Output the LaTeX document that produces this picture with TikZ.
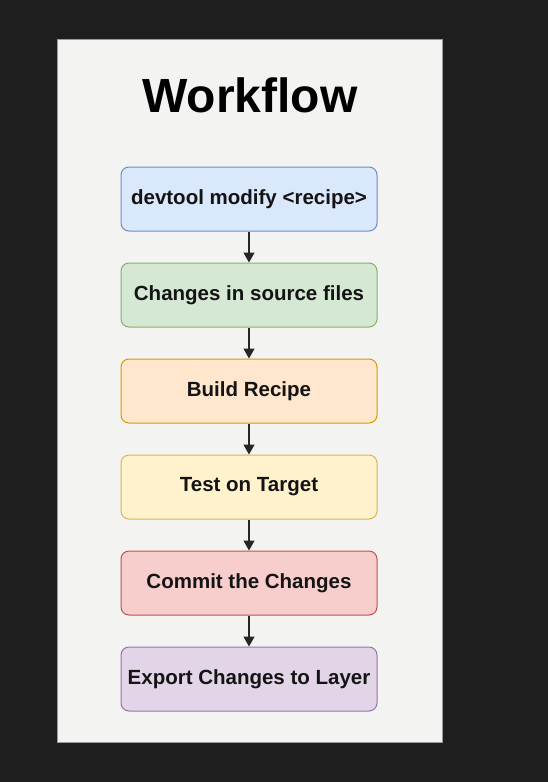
\documentclass[tikz,border=0pt]{standalone}
\usepackage{fontspec}
\setmainfont{Liberation Sans}
\usepackage{tikz}
\usepackage{xcolor}
\usetikzlibrary{shapes,arrows.meta,positioning,calc}

\definecolor{bgdark}{HTML}{1E1E1E}
\definecolor{panelfill}{HTML}{F3F3F2}
\definecolor{panelline}{HTML}{9A9A9A}
\definecolor{txtdark}{HTML}{141414}
\definecolor{bluefill}{HTML}{DAE8FC}\definecolor{blueline}{HTML}{6C8EBF}
\definecolor{greenfill}{HTML}{D5E8D4}\definecolor{greenline}{HTML}{82B366}
\definecolor{orangefill}{HTML}{FFE6CC}\definecolor{orangeline}{HTML}{D79B00}
\definecolor{yellowfill}{HTML}{FFF2CC}\definecolor{yellowline}{HTML}{D6B656}
\definecolor{redfill}{HTML}{F8CECC}\definecolor{redline}{HTML}{B85450}
\definecolor{purplefill}{HTML}{E1D5E7}\definecolor{purpleline}{HTML}{9673A6}

\tikzset{
    stepbox/.style={draw, line width=1pt, rounded corners=8pt,
        minimum width=256pt, minimum height=64pt, inner sep=0pt,
        text=txtdark, font=\fontsize{20.5}{24}\selectfont\bfseries},
    flow/.style={-{Triangle[width=11pt,length=10pt]}, line width=1.3pt, black!85}
}

\begin{document}
\begin{tikzpicture}[x=1pt, y=-1pt, node distance=31pt]
        % Background and panel
        \fill[bgdark] (0,0) rectangle (548,782);
        \useasboundingbox (0,0) rectangle (548,782);
        \filldraw[fill=panelfill, draw=panelline, line width=1pt] (57,39) rectangle (442,742);

        % ============================================================
        % Title
        % ============================================================
        \node[text=black, font=\fontsize{48}{52}\selectfont\bfseries] (title) at (250,95) {Workflow};

        % ============================================================
        % Steps
        % ============================================================
        \node[stepbox, fill=bluefill, draw=blueline] (modify) at (249,199) {devtool modify <recipe>};
        \node[stepbox, fill=greenfill, draw=greenline, below=of modify] (changes) {Changes in source files};
        \node[stepbox, fill=orangefill, draw=orangeline, below=of changes] (build) {Build Recipe};
        \node[stepbox, fill=yellowfill, draw=yellowline, below=of build] (test) {Test on Target};
        \node[stepbox, fill=redfill, draw=redline, below=of test] (commit) {Commit the Changes};
        \node[stepbox, fill=purplefill, draw=purpleline, below=of commit] (export) {Export Changes to Layer};

        % Arrows
        \draw[flow] (modify) -- (changes);
        \draw[flow] (changes) -- (build);
        \draw[flow] (build) -- (test);
        \draw[flow] (test) -- (commit);
        \draw[flow] (commit) -- (export);
\end{tikzpicture}
\end{document}
